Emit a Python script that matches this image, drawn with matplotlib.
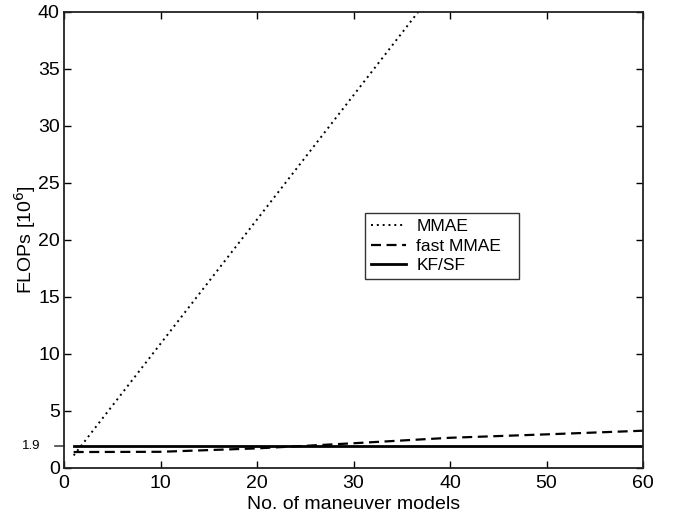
import matplotlib
matplotlib.use("Agg")
import matplotlib.pyplot as plt
import matplotlib.transforms as mtransforms

plt.rcParams['font.family'] = ['Liberation Sans', 'DejaVu Sans']

# Data
models = [1, 10, 20, 30, 40, 50, 60]
mmae = [1.1, 10.9, 21.8, 32.7, 43.6, 54.5, 65.4]
fast_mmae = [1.4, 1.42, 1.72, 2.17, 2.65, 2.95, 3.27]
kf_sf = [1.9, 1.9, 1.9, 1.9, 1.9, 1.9, 1.9]
yticks = [0, 5, 10, 15, 20, 25, 30, 35, 40]
xticks = [0, 10, 20, 30, 40, 50, 60]
ref_level = 1.9

fig = plt.figure(figsize=(6.79, 5.17), dpi=100)
ax = fig.add_axes([0.0943, 0.0948, 0.8527, 0.882])

ax.plot(models, mmae, linestyle=(0, (1, 2)), color='black', lw=1.4, label='MMAE')
ax.plot(models, fast_mmae, linestyle=(0, (4.5, 2.5)), color='black', lw=1.6, label='fast MMAE')
ax.plot(models, kf_sf, linestyle='-', color='black', lw=2.0, label='KF/SF')

ax.set_xlim(0, 60)
ax.set_ylim(0, 40)
ax.set_xticks(xticks)
ax.set_yticks(yticks)
ax.tick_params(axis='both', direction='in', top=True, right=True, length=5,
               width=1, labelsize=14)
ax.tick_params(axis='x', pad=5)
ax.tick_params(axis='y', pad=3)
for s in ax.spines.values():
    s.set_linewidth(1.3)
    s.set_color('#222222')

ax.set_xlabel('No. of maneuver models', fontsize=14, labelpad=3)
ax.set_ylabel('FLOPs [10$^6$]', fontsize=14)
ax.yaxis.set_label_coords(-0.045, 0.5)

# special 1.9 label with outward tick
trans = mtransforms.blended_transform_factory(ax.transAxes, ax.transData)
ax.plot([-0.016, 0.0], [ref_level, ref_level], color='#444444', lw=1.2,
        transform=trans, clip_on=False)
ax.text(-0.041, ref_level, '1.9', transform=trans, ha='right', va='center',
        fontsize=9.5)

leg = ax.legend(loc='lower left', bbox_to_anchor=(0.52, 0.414, 0.266, 0.147),
                mode='expand', fontsize=12.5, frameon=True, fancybox=False,
                edgecolor='black', handlelength=2.0, borderpad=0.35,
                labelspacing=0.25, handletextpad=0.6, borderaxespad=0)
leg.get_frame().set_linewidth(1.0)

fig.savefig('out.png', dpi=100)
